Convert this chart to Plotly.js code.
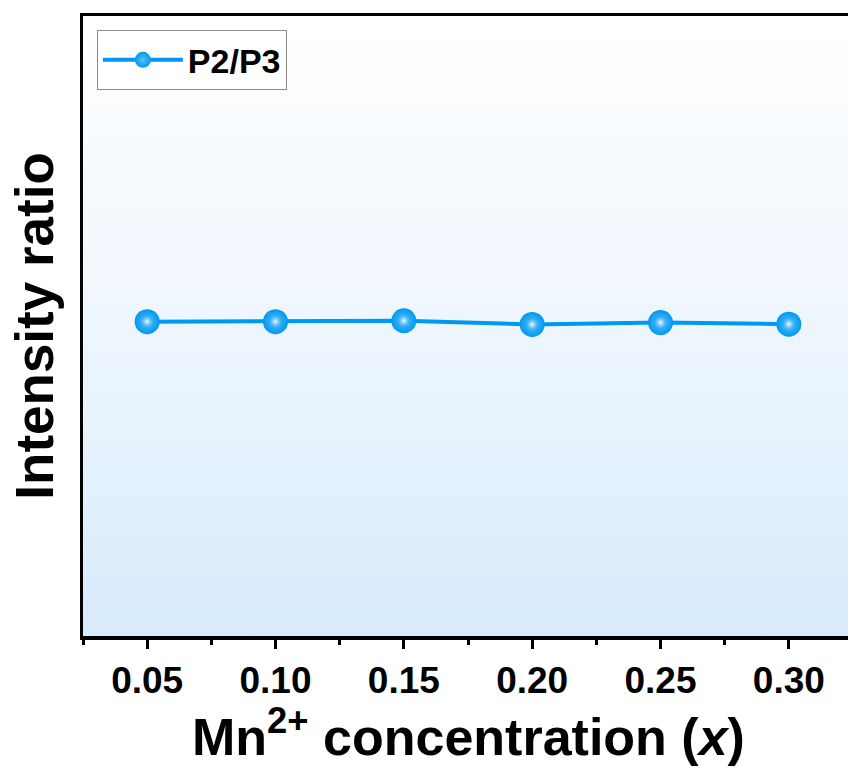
<!DOCTYPE html>
<html>
<head>
<meta charset="utf-8">
<script src="https://cdn.plot.ly/plotly-3.0.1.min.js"></script>
<style>
html, body { margin: 0; padding: 0; width: 848px; height: 767px; overflow: hidden; background: #ffffff; }
#chart { width: 866px; height: 767px; }
</style>
</head>
<body>
<div id="chart"></div>
<script>
// Data
const concentration = [0.05, 0.10, 0.15, 0.20, 0.25, 0.30];
const ratioP2P3 = [1.014, 1.014, 1.017, 1.005, 1.011, 1.006];
const tickValues = [0.05, 0.10, 0.15, 0.20, 0.25, 0.30];
const tickLabels = ["0.05", "0.10", "0.15", "0.20", "0.25", "0.30"];
const seriesName = "P2/P3";
const xTitle = "Mn<sup>2+</sup> concentration (<i>x</i>)";
const yTitle = "Intensity ratio";

const FONT = "Arial, 'Liberation Sans', Helvetica, sans-serif";
const BLUE = "rgb(0,152,240)";

const gradSvg = "<svg xmlns='http://www.w3.org/2000/svg' width='10' height='100' preserveAspectRatio='none'>" +
  "<defs><linearGradient id='g' x1='0' y1='0' x2='0' y2='1'>" +
  "<stop offset='0' stop-color='#ffffff'/><stop offset='0.5' stop-color='#eef6fd'/><stop offset='1' stop-color='#d7ebfb'/>" +
  "</linearGradient></defs><rect width='10' height='100' fill='url(#g)'/></svg>";
const gradUri = "data:image/svg+xml;charset=utf-8," + encodeURIComponent(gradSvg);

const trace = {
  x: concentration,
  y: ratioP2P3,
  name: seriesName,
  type: "scatter",
  mode: "lines+markers",
  line: { color: BLUE, width: 4 },
  marker: {
    size: 25,
    color: BLUE,
    gradient: { type: "radial", color: "#5cc0fa" },
    line: { width: 0 }
  },
  showlegend: true
};

// glossy highlight on each sphere (same data, styling only)
const highlight = {
  x: concentration,
  y: ratioP2P3,
  type: "scatter",
  mode: "markers",
  hoverinfo: "skip",
  showlegend: false,
  marker: {
    size: 12,
    color: "rgba(120,200,250,0)",
    gradient: { type: "radial", color: "rgba(255,255,255,0.95)" },
    line: { width: 0 }
  }
};

const axisLine = { showline: true, linecolor: "#000", linewidth: 3.5, mirror: true };

const layout = {
  width: 866,
  height: 767,
  margin: { l: 83, r: 13, t: 16, b: 131 },
  paper_bgcolor: "#ffffff",
  plot_bgcolor: "rgba(0,0,0,0)",
  font: { family: FONT, color: "#000", weight: 700 },
  xaxis: Object.assign({
    range: [0.025, 0.325],
    tickvals: tickValues,
    ticktext: tickLabels,
    ticks: "outside",
    ticklen: 9,
    tickwidth: 3,
    tickcolor: "#000",
    tickfont: { family: FONT, size: 37, color: "#000", weight: 700 },
    showgrid: false,
    zeroline: false,
    minor: { ticks: "outside", ticklen: 5, tickwidth: 3, tickcolor: "#000", dtick: 0.025, tick0: 0.025, showgrid: false }
  }, axisLine),
  yaxis: Object.assign({
    range: [0, 2],
    showticklabels: false,
    ticks: "",
    showgrid: false,
    zeroline: false
  }, axisLine),
  legend: {
    x: 0.018, y: 0.977, xanchor: "left", yanchor: "top",
    bgcolor: "rgba(255,255,255,0.9)",
    bordercolor: "#8a8a8a",
    borderwidth: 1,
    font: { family: FONT, size: 34, color: "#000", weight: 700 },
    itemwidth: 80
  },
  images: [{
    source: gradUri,
    xref: "paper", yref: "paper",
    x: 0, y: 1, sizex: 1, sizey: 1,
    xanchor: "left", yanchor: "top",
    sizing: "stretch",
    layer: "below"
  }],
  annotations: [
    {
      text: xTitle, xref: "paper", yref: "paper",
      x: 0.5, y: -0.157, xanchor: "center", yanchor: "middle",
      showarrow: false,
      font: { family: FONT, size: 52, color: "#000", weight: 700 }
    },
    {
      text: yTitle, xref: "paper", yref: "paper",
      x: -0.064, y: 0.5, xanchor: "center", yanchor: "middle",
      textangle: -90, showarrow: false,
      font: { family: FONT, size: 53, color: "#000", weight: 700 }
    }
  ]
};

Plotly.newPlot("chart", [trace, highlight], layout, { displayModeBar: false, staticPlot: true });
</script>
</body>
</html>
